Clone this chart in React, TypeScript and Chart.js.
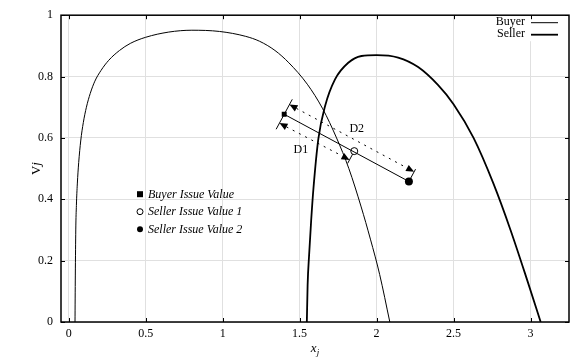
import React, { useEffect, useRef } from "react";
import { Chart, registerables } from "chart.js";

Chart.register(...registerables);

// ---- data ----
const buyerX = [0.041, 0.043, 0.046, 0.05, 0.056, 0.065, 0.078, 0.095, 0.115, 0.14, 0.17, 0.21, 0.26, 0.33, 0.4, 0.5, 0.65, 0.8, 0.98, 1.15, 1.24, 1.34, 1.43, 1.55, 1.65, 1.74, 1.82, 1.9, 1.96, 2.02, 2.086];
const buyerY = [0, 0.15, 0.3, 0.38, 0.45, 0.52, 0.59, 0.65, 0.7, 0.745, 0.785, 0.82, 0.853, 0.885, 0.908, 0.928, 0.945, 0.951, 0.947, 0.931, 0.915, 0.885, 0.845, 0.775, 0.695, 0.6, 0.5, 0.375, 0.27, 0.155, 0];
const sellerX = [1.547, 1.552, 1.562, 1.575, 1.59, 1.622, 1.666, 1.73, 1.816, 1.902, 2.0, 2.14, 2.27, 2.4, 2.5, 2.63, 2.76, 2.87, 2.98, 3.066];
const sellerY = [0, 0.12, 0.221, 0.33, 0.436, 0.598, 0.705, 0.791, 0.845, 0.867, 0.87, 0.862, 0.831, 0.772, 0.71, 0.6, 0.45, 0.3, 0.134, 0];

const curveLabels = ["Buyer", "Seller"];
const issueLabels = ["Buyer Issue Value", "Seller Issue Value 1", "Seller Issue Value 2"];
const issueX = [1.4, 1.855, 2.21];
const issueY = [0.677, 0.557, 0.458];
const distanceLabels = ["D1", "D2"];

const xTicks = [0, 0.5, 1, 1.5, 2, 2.5, 3];
const yTicks = [0, 0.2, 0.4, 0.6, 0.8, 1];
const xRange = [-0.05, 3.25];
const yRange = [0, 1];

const FONT = "'Liberation Serif', 'Times New Roman', serif";

type Pt = { x: number; y: number };

const decor = {
  id: "decor",
  beforeDatasetsDraw(chart: any) {
    const { ctx, chartArea: a, scales } = chart;
    const xs = scales.x;
    const ys = scales.y;
    ctx.save();

    // top-right key
    ctx.fillStyle = "#fff";
    ctx.fillRect(a.right - 92, a.top + 1, 91, 25);
    ctx.font = `12px ${FONT}`;
    ctx.fillStyle = "#000";
    ctx.strokeStyle = "#000";
    ctx.textAlign = "right";
    ctx.textBaseline = "middle";
    const widths = [1, 1.8];
    curveLabels.forEach((lab, i) => {
      const y = a.top + 7 + i * 12;
      ctx.fillText(lab, a.right - 44, y);
      ctx.beginPath();
      ctx.lineWidth = widths[i];
      ctx.moveTo(a.right - 38, y + 0.5);
      ctx.lineTo(a.right - 11, y + 0.5);
      ctx.stroke();
    });

    // dimension annotations
    const P: Pt[] = issueX.map((x, i) => ({ x: xs.getPixelForValue(x), y: ys.getPixelForValue(issueY[i]) }));
    const dx = P[2].x - P[0].x;
    const dy = P[2].y - P[0].y;
    const L = Math.hypot(dx, dy);
    const u = { x: dx / L, y: dy / L };
    const n = { x: u.y, y: -u.x };
    const add = (p: Pt, v: Pt, k: number): Pt => ({ x: p.x + v.x * k, y: p.y + v.y * k });
    const seg = (p: Pt, q: Pt) => {
      ctx.beginPath();
      ctx.moveTo(p.x, p.y);
      ctx.lineTo(q.x, q.y);
      ctx.stroke();
    };
    ctx.lineWidth = 1;
    ctx.setLineDash([]);
    seg(add(P[0], n, -17), add(P[0], n, 17));
    seg(P[2], add(P[2], n, 14));
    seg(P[1], add(P[1], n, -14));

    const head = (tip: Pt, dir: Pt) => {
      const base = add(tip, dir, -8);
      const l = add(base, n, 3.5);
      const r = add(base, n, -3.5);
      ctx.beginPath();
      ctx.moveTo(tip.x, tip.y);
      ctx.lineTo(l.x, l.y);
      ctx.lineTo(r.x, r.y);
      ctx.closePath();
      ctx.fill();
    };
    const dim = (A: Pt, B: Pt, off: number) => {
      const p = add(A, n, off);
      const q = add(B, n, off);
      ctx.setLineDash([2, 5]);
      seg(add(p, u, 8), add(q, u, -8));
      ctx.setLineDash([]);
      head(p, { x: -u.x, y: -u.y });
      head(q, u);
    };
    dim(P[0], P[2], 11);
    dim(P[0], P[1], -10);

    ctx.font = `12px ${FONT}`;
    ctx.textAlign = "center";
    ctx.textBaseline = "middle";
    const m01 = { x: (P[0].x + P[1].x) / 2, y: (P[0].y + P[1].y) / 2 };
    const m02 = { x: (P[0].x + P[2].x) / 2, y: (P[0].y + P[2].y) / 2 };
    const d1 = add(add(m01, u, -8), n, -24);
    const d2 = add(m02, n, 21.5);
    ctx.fillText(distanceLabels[0], d1.x, d1.y);
    ctx.fillText(distanceLabels[1], d2.x, d2.y);

    // marker key
    ctx.font = `italic 12px ${FONT}`;
    ctx.textAlign = "left";
    issueLabels.forEach((lab, i) => {
      const mx = a.left + 79;
      const my = a.top + 179 + i * 17.5;
      ctx.lineWidth = 1;
      if (i === 0) {
        ctx.fillRect(mx - 3, my - 3, 6, 6);
      } else {
        ctx.beginPath();
        ctx.arc(mx, my, 3, 0, Math.PI * 2);
        if (i === 1) {
          ctx.fillStyle = "#fff";
          ctx.fill();
          ctx.fillStyle = "#000";
          ctx.stroke();
        } else {
          ctx.fill();
        }
      }
      ctx.fillText(lab, mx + 8, my + 0.5);
    });
    ctx.restore();
  },
  afterDraw(chart: any) {
    const { ctx, chartArea: a, scales } = chart;
    ctx.save();
    ctx.strokeStyle = "#000";
    ctx.fillStyle = "#000";
    ctx.lineWidth = 1;
    xTicks.forEach((v) => {
      const x = Math.round(scales.x.getPixelForValue(v)) + 0.5;
      ctx.beginPath();
      ctx.moveTo(x, a.bottom);
      ctx.lineTo(x, a.bottom - 4);
      ctx.moveTo(x, a.top);
      ctx.lineTo(x, a.top + 4);
      ctx.stroke();
    });
    yTicks.forEach((v) => {
      const y = Math.round(scales.y.getPixelForValue(v)) + 0.5;
      ctx.beginPath();
      ctx.moveTo(a.left, y);
      ctx.lineTo(a.left + 4, y);
      ctx.moveTo(a.right, y);
      ctx.lineTo(a.right - 4, y);
      ctx.stroke();
    });
    ctx.lineWidth = 1.5;
    ctx.strokeRect(a.left, a.top, a.right - a.left, a.bottom - a.top);

    // axis titles
    ctx.textBaseline = "middle";
    ctx.save();
    ctx.translate(a.left - 24, (a.top + a.bottom) / 2);
    ctx.rotate(-Math.PI / 2);
    ctx.font = `13px ${FONT}`;
    const wV = ctx.measureText("V").width;
    ctx.font = `italic 13px ${FONT}`;
    const wj = ctx.measureText("j").width;
    const start = -(wV + wj) / 2;
    ctx.textAlign = "left";
    ctx.font = `13px ${FONT}`;
    ctx.fillText("V", start, 0);
    ctx.font = `italic 13px ${FONT}`;
    ctx.fillText("j", start + wV, 0);
    ctx.restore();
    const cx = (a.left + a.right) / 2;
    const cy = a.bottom + 27;
    ctx.font = `italic 13px ${FONT}`;
    const wx = ctx.measureText("x").width;
    ctx.font = `italic 9px ${FONT}`;
    const wsub = ctx.measureText("j").width;
    const sx = cx - (wx + wsub) / 2;
    ctx.textAlign = "left";
    ctx.font = `italic 13px ${FONT}`;
    ctx.fillText("x", sx, cy);
    ctx.font = `italic 9px ${FONT}`;
    ctx.fillText("j", sx + wx, cy + 4);
    ctx.restore();
  },
};

export default function App() {
  const ref = useRef<HTMLCanvasElement>(null);
  useEffect(() => {
    document.body.style.margin = "0";
    const canvas = ref.current;
    if (!canvas) return;
    const toPts = (xs: number[], ys: number[]) => xs.map((x, i) => ({ x, y: ys[i] }));
    const chart = new Chart(canvas, {
      type: "scatter",
      data: {
        datasets: [
          {
            label: curveLabels[0],
            data: toPts(buyerX, buyerY),
            showLine: true,
            borderColor: "#000",
            borderWidth: 1,
            pointRadius: 0,
            cubicInterpolationMode: "monotone",
          },
          {
            label: curveLabels[1],
            data: toPts(sellerX, sellerY),
            showLine: true,
            borderColor: "#000",
            borderWidth: 1.8,
            pointRadius: 0,
            cubicInterpolationMode: "monotone",
          },
          {
            label: "link",
            data: [
              { x: issueX[0], y: issueY[0] },
              { x: issueX[2], y: issueY[2] },
            ],
            showLine: true,
            borderColor: "#000",
            borderWidth: 1,
            pointRadius: 0,
          },
          {
            label: issueLabels[0],
            data: [{ x: issueX[0], y: issueY[0] }],
            pointStyle: "rect",
            pointRadius: 3.5,
            backgroundColor: "#000",
            borderColor: "#000",
            borderWidth: 0,
          },
          {
            label: issueLabels[1],
            data: [{ x: issueX[1], y: issueY[1] }],
            pointStyle: "circle",
            pointRadius: 3.5,
            backgroundColor: "#fff",
            borderColor: "#000",
            borderWidth: 1,
          },
          {
            label: issueLabels[2],
            data: [{ x: issueX[2], y: issueY[2] }],
            pointStyle: "circle",
            pointRadius: 4,
            backgroundColor: "#000",
            borderColor: "#000",
            borderWidth: 0,
          },
        ],
      },
      options: {
        responsive: false,
        animation: false,
        events: [],
        layout: { padding: { top: 12, right: 3, left: 0, bottom: 0 } },
        plugins: { legend: { display: false }, tooltip: { enabled: false } },
        scales: {
          x: {
            type: "linear",
            min: xRange[0],
            max: xRange[1],
            afterBuildTicks: (s: any) => {
              s.ticks = xTicks.map((v) => ({ value: v }));
            },
            afterFit: (s: any) => {
              s.height = 40;
            },
            grid: { color: "#e0e0e0", lineWidth: 1, drawTicks: false },
            border: { display: false },
            ticks: {
              padding: 5,
              color: "#000",
              font: { family: FONT, size: 12 },
              callback: (v: any) => String(v),
            },
          },
          y: {
            type: "linear",
            min: yRange[0],
            max: yRange[1],
            afterBuildTicks: (s: any) => {
              s.ticks = yTicks.map((v) => ({ value: v }));
            },
            afterFit: (s: any) => {
              s.width = 61;
            },
            grid: { color: "#e0e0e0", lineWidth: 1, drawTicks: false },
            border: { display: false },
            ticks: {
              padding: 8,
              color: "#000",
              font: { family: FONT, size: 12 },
              callback: (v: any) => String(v),
            },
          },
        },
      },
      plugins: [decor],
    } as any);
    return () => chart.destroy();
  }, []);
  return (
    <div style={{ position: "fixed", left: 0, top: 0, width: 574, height: 362, background: "#fff" }}>
      <canvas ref={ref} width={574} height={362} style={{ width: 574, height: 362 }} />
    </div>
  );
}
